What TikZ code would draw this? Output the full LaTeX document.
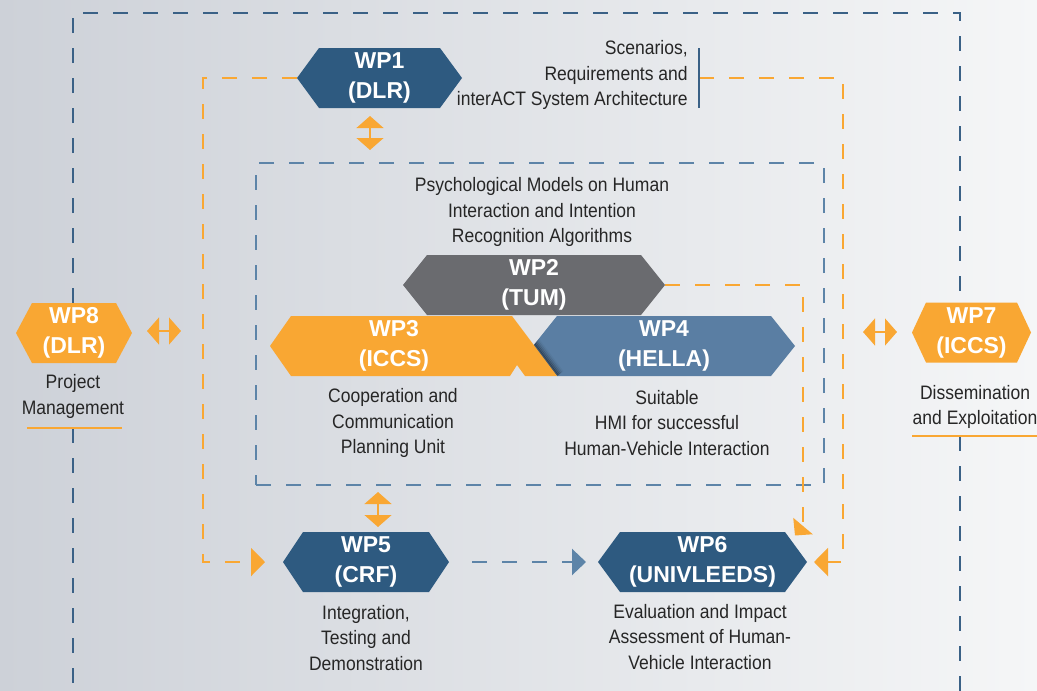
\documentclass[tikz,border=0pt]{standalone}
\usepackage{fontspec}
\setmainfont{Liberation Sans}
\newfontfamily\lblfamily[FakeStretch=0.9]{Liberation Sans}
\usetikzlibrary{arrows.meta,calc}

\definecolor{wpblue}{HTML}{2E5A80}
\definecolor{wpsteel}{HTML}{5A7EA3}
\definecolor{wpgray}{HTML}{6A6B6F}
\definecolor{wporange}{HTML}{F9A733}
\definecolor{linedark}{HTML}{3A6186}
\definecolor{linelight}{HTML}{5D84A8}
\definecolor{txtgray}{HTML}{262626}
\definecolor{bgleft}{HTML}{CDD1D8}
\definecolor{bgright}{HTML}{F5F6F7}

\pgfdeclarelayer{bg}
\pgfdeclarelayer{lines}
\pgfsetlayers{bg,lines,main}

\begin{document}
\begin{tikzpicture}[x=0.75pt,y=-0.75pt,
  % elongated hexagon: #1 fill colour, #2 length of the pointed ends
  hexa/.style 2 args={shape=rectangle, inner sep=0pt, outer sep=0pt, minimum height=45pt,
    text=white, font=\bfseries\fontsize{17.25pt}{22.5pt}\selectfont, align=center,
    path picture={\fill[#1] (path picture bounding box.west)
      -- ([xshift=#2]path picture bounding box.north west)
      -- ([xshift=-#2]path picture bounding box.north east)
      -- (path picture bounding box.east)
      -- ([xshift=-#2]path picture bounding box.south east)
      -- ([xshift=#2]path picture bounding box.south west) -- cycle;}},
  wplabel/.style={text=white, font=\bfseries\fontsize{17.25pt}{22.5pt}\selectfont,
    align=center, inner sep=0pt},
  caption/.style={text=txtgray, font=\lblfamily\fontsize{14.6pt}{19.2pt}\selectfont,
    align=center, inner sep=0pt},
  bdash/.style={draw=linedark, line width=1.8pt, dash pattern=on 11.25pt off 11.25pt},
  idash/.style={draw=linelight, line width=1.8pt, dash pattern=on 11.25pt off 11.25pt},
  odash/.style={draw=wporange, line width=1.8pt, dash pattern=on 11.25pt off 11.25pt},
  otip/.style={-{Triangle[length=10.5pt,width=21pt]}},
  dbl/.style={draw=wporange, line width=2pt,
    {Triangle[length=9pt,width=20pt]}-{Triangle[length=9pt,width=20pt]}},
  uline/.style={draw=wporange, line width=1.5pt},
]

% canvas
\useasboundingbox (0,0) rectangle (1037,690);
\begin{pgfonlayer}{bg}
  \fill[left color=bgleft, right color=bgright] (0,0) rectangle (1037,690);
\end{pgfonlayer}

% work packages
\node[hexa={wpblue}{16.5pt}, minimum width=123.75pt] (wp1) at (379.5,78) {WP1\\(DLR)};
\node[hexa={wpgray}{18pt}, minimum width=196.5pt] (wp2) at (534,285) {WP2\\(TUM)};
\node[hexa={wpsteel}{18pt}, minimum width=196.5pt] (wp4) at (664,346) {WP4\\(HELLA)};
% soft shadow cast by the WP3 block onto WP4
\begin{scope}
  \clip (533,346) -- (557,316) -- (773,316) -- (795,346) -- (773,376) -- (557,376) -- cycle;
  \foreach \d/\o in {1/0.32,2.5/0.24,4/0.16,5.5/0.09,7/0.04}
    \draw[black, opacity=\o, line width=1.6pt] ($(512,316)+(0.8*\d,-0.6*\d)$) -- ($(557,376)+(0.8*\d,-0.6*\d)$);
\end{scope}
\fill[wporange] (270,346) -- (291,316) -- (512,316) -- (557,376) -- (525,376)
  -- (517,365) -- (510,376) -- (291,376) -- cycle;
\node[wplabel] (wp3) at (394,346) {WP3\\(ICCS)};
\node[hexa={wpblue}{15pt}, minimum width=124.5pt] (wp5) at (366,562) {WP5\\(CRF)};
\node[hexa={wpblue}{16.5pt}, minimum width=156.75pt] (wp6) at (702.5,562) {WP6\\(UNIVLEEDS)};
\node[hexa={wporange}{12pt}, minimum width=87pt] (wp8) at (74,333) {WP8\\(DLR)};
\node[hexa={wporange}{10.5pt}, minimum width=89.25pt] (wp7) at (971.5,332.5) {WP7\\(ICCS)};

% descriptions
\node[caption, anchor=east, align=right] (wp1cap) at (688,75)
  {Scenarios,\\Requirements and\\interACT System Architecture};
\node[caption] (wp2cap) at (542,212)
  {Psychological Models on Human\\Interaction and Intention\\Recognition Algorithms};
\node[caption] (wp3cap) at (393,423) {Cooperation and\\Communication\\Planning Unit};
\node[caption] (wp4cap) at (667,423) {Suitable\\HMI for successful\\Human-Vehicle Interaction};
\node[caption] (wp5cap) at (366,638) {Integration,\\Testing and\\Demonstration};
\node[caption] (wp6cap) at (700,637) {Evaluation and Impact\\Assessment of Human-\\Vehicle Interaction};
\node[caption] (wp8cap) at (73,396.5) {Project\\Management};
\node[caption] (wp7cap) at (975,407) {Dissemination\\and Exploitation};

% guide coordinates
\coordinate (otl) at (73,13);
\coordinate (otr) at (960,13);
\coordinate (obl) at (73,700);
\coordinate (obr) at (960,700);
\coordinate (pmL) at (27,428);
\coordinate (pmR) at (122,428);
\coordinate (deL) at (912,436);
\coordinate (deR) at (1040,436);
\coordinate (bart) at (699,48);
\coordinate (barb) at (699,108);
\coordinate (barm) at (699,78);
\coordinate (lx) at (203,0);
\coordinate (rx) at (843,0);
\coordinate (mx) at (803,0);
\coordinate (mxend) at (803,526);

\begin{pgfonlayer}{lines}
  % project-wide frame linking WP8 and WP7
  \draw[bdash] (otl |- wp8.north) -- (otl) -- (otr) -- (otr |- wp7.north);
  \draw[bdash] (otl |- pmL) -- (obl);
  \draw[bdash] (otr |- deL) -- (obr);

  % technical work package frame
  \node[idash, draw, inner sep=0pt, minimum width=426pt, minimum height=241.5pt] (inner) at (540,324) {};

  % information flows
  \draw[odash, otip] (wp1.west) -- (wp1.west -| lx) -- (wp5.west -| lx)
    -- ([xshift=-13.5pt]wp5.west);
  \draw[odash, otip] (barm) -- (barm -| rx) -- (wp6.east -| rx)
    -- ([xshift=5.25pt]wp6.east);
  \draw[odash, -{Triangle[length=9.3pt,width=18.75pt]}] (wp2.east) -- (wp2.east -| mx)
    -- (mxend) -- ++(-8,9.5);
  \draw[idash, -{Triangle[length=10.5pt,width=19.5pt]}, draw=linelight]
    ([xshift=17.25pt]wp5.east) -- ([xshift=-9pt]wp6.west);
\end{pgfonlayer}

% side bar next to the WP1 description
\draw[linedark, line width=1.9pt] (bart) -- (barb);

% underlines of the side descriptions
\draw[uline] (pmL) -- (pmR);
\draw[uline] (deL) -- (deR);

% two-way exchanges
\coordinate (d1a) at (370,116); \coordinate (d1b) at (370,150);
\coordinate (d2a) at (378,492); \coordinate (d2b) at (378,527);
\coordinate (d3a) at (147,331); \coordinate (d3b) at (181,331);
\coordinate (d4a) at (863,332); \coordinate (d4b) at (897,332);
\draw[dbl] (d1a) -- (d1b);
\draw[dbl] (d2a) -- (d2b);
\draw[dbl] (d3a) -- (d3b);
\draw[dbl] (d4a) -- (d4b);

\end{tikzpicture}
\end{document}
